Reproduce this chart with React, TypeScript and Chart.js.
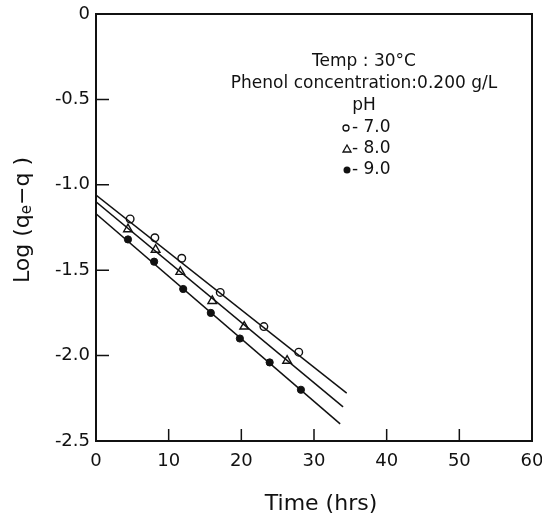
import React, { useEffect, useRef } from "react";
import { Chart, registerables } from "chart.js";

Chart.register(...registerables);

// pH 7.0 (open circles)
const timeC = [4.7, 8.1, 11.8, 17.1, 23.1, 27.9];
const logC = [-1.2, -1.31, -1.43, -1.63, -1.83, -1.98];
// pH 8.0 (open triangles)
const timeT = [4.4, 8.2, 11.6, 16.0, 20.4, 26.3];
const logT = [-1.26, -1.38, -1.51, -1.68, -1.83, -2.03];
// pH 9.0 (filled circles)
const timeD = [4.4, 8.0, 12.0, 15.8, 19.8, 23.9, 28.2];
const logD = [-1.32, -1.45, -1.61, -1.75, -1.9, -2.04, -2.2];
// fitted lines (start/end)
const fitCX = [0, 34.5];
const fitCY = [-1.06, -2.22];
const fitTX = [0, 34.0];
const fitTY = [-1.1, -2.3];
const fitDX = [0, 33.6];
const fitDY = [-1.17, -2.4];

const xTicks = [0, 10, 20, 30, 40, 50, 60];
const yTicks = [0, -0.5, -1.0, -1.5, -2.0, -2.5];

const infoLines = ["Temp : 30\u00B0C", "Phenol concentration:0.200 g/L", "pH"];
const legendLabels = ["- 7.0", "- 8.0", "- 9.0"];

const FONT = "'DejaVu Sans', sans-serif";
const INK = "#111";

const zip = (xs: number[], ys: number[]) => xs.map((x, i) => ({ x, y: ys[i] }));

const decor = {
  id: "decor",
  afterDraw(chart: any) {
    const ctx = chart.ctx as CanvasRenderingContext2D;
    const a = chart.chartArea;
    const xs = chart.scales.x;
    const ys = chart.scales.y;
    ctx.save();
    ctx.strokeStyle = INK;
    ctx.fillStyle = INK;
    // frame
    ctx.lineWidth = 2;
    ctx.strokeRect(a.left, a.top, a.right - a.left, a.bottom - a.top);
    // inward ticks
    ctx.lineWidth = 1.5;
    ctx.beginPath();
    xTicks.slice(1, -1).forEach((v) => {
      const px = xs.getPixelForValue(v);
      ctx.moveTo(px, a.bottom);
      ctx.lineTo(px, a.bottom - 12);
    });
    yTicks.slice(1, -1).forEach((v) => {
      const py = ys.getPixelForValue(v);
      ctx.moveTo(a.left, py);
      ctx.lineTo(a.left + 13, py);
    });
    ctx.stroke();

    // x title
    ctx.font = `22px ${FONT}`;
    ctx.textAlign = "center";
    ctx.textBaseline = "middle";
    ctx.fillText("Time (hrs)", 321, 504);

    // y title with subscript
    ctx.save();
    ctx.translate(23, 220);
    ctx.rotate(-Math.PI / 2);
    const big = `22px ${FONT}`;
    const small = `15px ${FONT}`;
    const p1 = "Log (q";
    const p2 = "e";
    const p3 = "\u2212q )";
    ctx.font = big;
    const w1 = ctx.measureText(p1).width;
    const w3 = ctx.measureText(p3).width;
    ctx.font = small;
    const w2 = ctx.measureText(p2).width;
    const tot = w1 + w2 + w3;
    let cx = -tot / 2;
    ctx.textAlign = "left";
    ctx.font = big;
    ctx.fillText(p1, cx, 0);
    cx += w1;
    ctx.font = small;
    ctx.fillText(p2, cx, 4);
    cx += w2;
    ctx.font = big;
    ctx.fillText(p3, cx, 0);
    ctx.restore();

    // info text
    ctx.font = `17px ${FONT}`;
    ctx.textAlign = "center";
    const infoY = [62, 84, 106];
    infoLines.forEach((t, i) => ctx.fillText(t, 364, infoY[i]));

    // legend rows
    const rowY = [128, 149, 170];
    ctx.textAlign = "left";
    ctx.lineWidth = 1.3;
    // circle
    ctx.beginPath();
    ctx.arc(346, rowY[0], 3, 0, Math.PI * 2);
    ctx.stroke();
    // triangle
    ctx.beginPath();
    ctx.moveTo(347, rowY[1] - 4);
    ctx.lineTo(351, rowY[1] + 3);
    ctx.lineTo(343, rowY[1] + 3);
    ctx.closePath();
    ctx.stroke();
    // dot
    ctx.beginPath();
    ctx.arc(347, rowY[2], 3.5, 0, Math.PI * 2);
    ctx.fill();
    legendLabels.forEach((t, i) => ctx.fillText(t, 352, rowY[i]));
    ctx.restore();
  },
};

export default function App() {
  const ref = useRef<HTMLCanvasElement | null>(null);
  useEffect(() => {
    document.body.style.margin = "0";
    const canvas = ref.current;
    if (!canvas) return;
    const lineDs = (xs: number[], ys: number[]) => ({
      data: zip(xs, ys),
      showLine: true,
      borderColor: INK,
      borderWidth: 1.5,
      pointRadius: 0,
      fill: false,
    });
    const chart = new Chart(canvas, {
      type: "scatter",
      data: {
        datasets: [
          lineDs(fitCX, fitCY),
          lineDs(fitTX, fitTY),
          lineDs(fitDX, fitDY),
          {
            data: zip(timeC, logC),
            pointStyle: "circle",
            pointRadius: 3.8,
            borderColor: INK,
            borderWidth: 1.4,
            backgroundColor: "#fff",
          },
          {
            data: zip(timeT, logT),
            pointStyle: "triangle",
            pointRadius: 5,
            borderColor: INK,
            borderWidth: 1.4,
            backgroundColor: "#fff",
          },
          {
            data: zip(timeD, logD),
            pointStyle: "circle",
            pointRadius: 3.6,
            borderColor: INK,
            borderWidth: 1,
            backgroundColor: INK,
          },
        ] as any,
      },
      options: {
        animation: false,
        responsive: false,
        layout: { padding: { top: 14, right: 0, left: 0, bottom: 0 } },
        plugins: { legend: { display: false }, tooltip: { enabled: false } },
        scales: {
          x: {
            type: "linear",
            min: 0,
            max: 60,
            afterFit: (s: any) => {
              s.height = 73;
              s.paddingRight = 10;
              s.paddingLeft = 0;
            },
            afterBuildTicks: (s: any) => {
              s.ticks = xTicks.map((v) => ({ value: v }));
            },
            grid: { display: false, drawTicks: false },
            border: { display: false },
            ticks: {
              color: INK,
              padding: 10,
              font: { family: FONT, size: 18 },
              callback: (v: any) => String(v),
            },
          },
          y: {
            type: "linear",
            min: -2.5,
            max: 0,
            afterFit: (s: any) => {
              s.width = 96;
              s.paddingTop = 0;
              s.paddingBottom = 0;
            },
            afterBuildTicks: (s: any) => {
              s.ticks = yTicks.map((v) => ({ value: v }));
            },
            grid: { display: false, drawTicks: false },
            border: { display: false },
            ticks: {
              color: INK,
              padding: 6,
              font: { family: FONT, size: 18 },
              callback: (v: any) => (Number(v) === 0 ? "0" : Number(v).toFixed(1)),
            },
          },
        },
      },
      plugins: [decor],
    });
    return () => chart.destroy();
  }, []);
  return (
    <div style={{ width: 542, height: 514 }}>
      <canvas ref={ref} width={542} height={514} />
    </div>
  );
}
